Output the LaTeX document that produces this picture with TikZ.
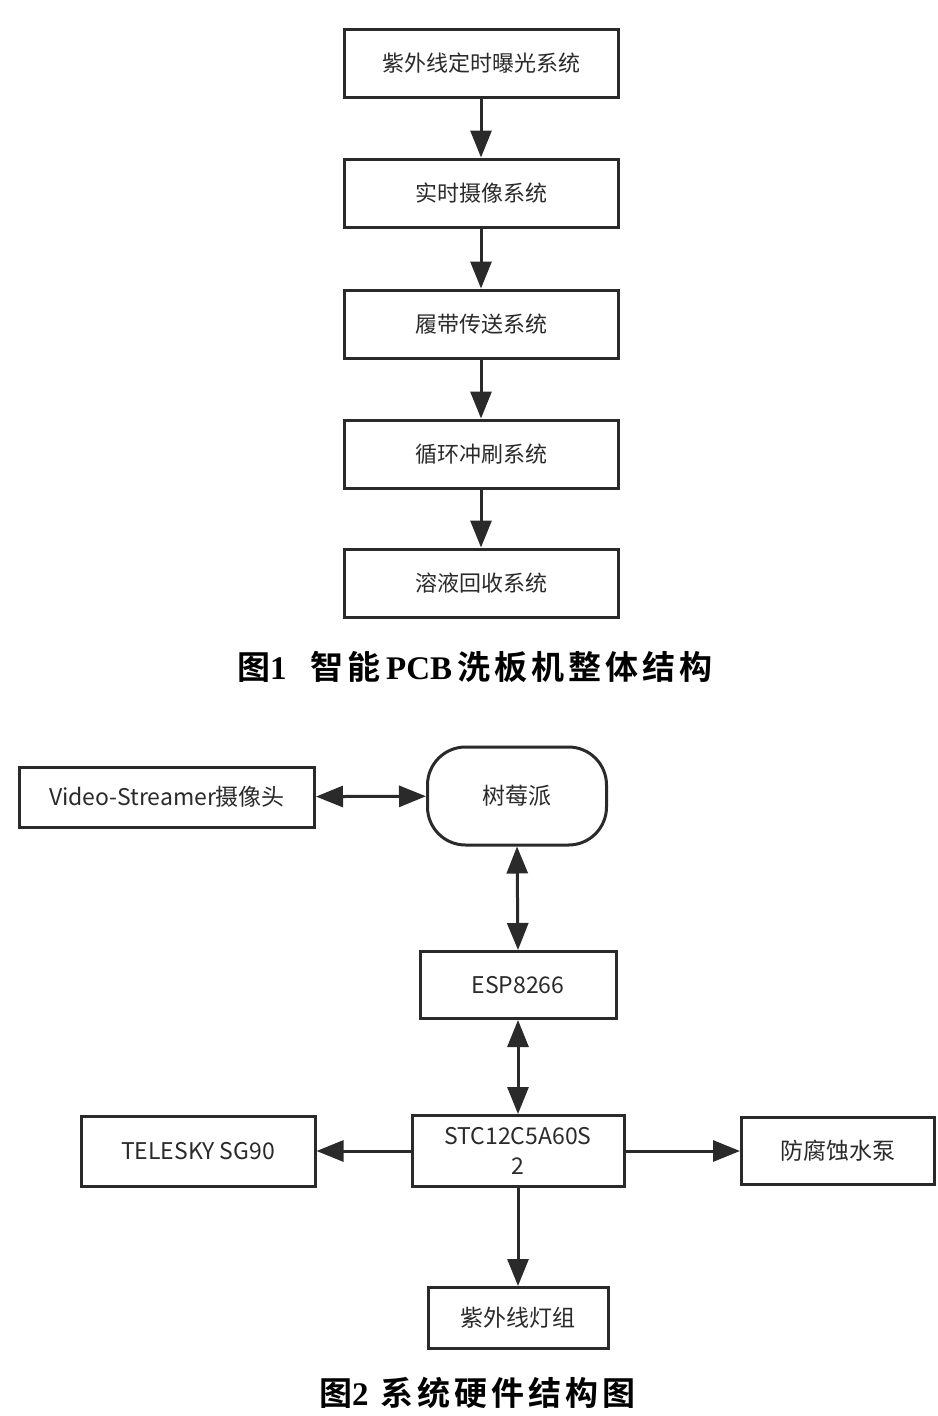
\documentclass[tikz,border=0pt]{standalone}
\usepackage{fontspec}
\newfontfamily\cjk{Noto Sans CJK SC}
\newfontfamily\cjkbold{Noto Sans CJK SC Bold}[LetterSpace=12]
\newfontfamily\serifbold{Liberation Serif Bold}
\usetikzlibrary{arrows.meta}
\definecolor{ink}{HTML}{2A2A2A}
\begin{document}
\begin{tikzpicture}[x=1pt,y=-1pt,
  box/.style={draw=ink,line width=3pt,inner sep=0pt,anchor=center,align=center,
    font=\cjk\fontsize{22}{30}\selectfont,text=ink},
  box2/.style={box,font=\cjk\fontsize{23}{30}\selectfont},
  conn/.style={line width=3pt,draw=ink},
  tip/.tip={Triangle[length=27pt,width=21pt]},
  arr/.style={conn,-tip},
  darr/.style={conn,tip-tip},
  captext/.style={anchor=west,inner sep=0pt,text=black,font=\cjkbold\fontsize{33}{36}\selectfont}]
\useasboundingbox (0,0) rectangle (937,1416);
\fill[white] (0,0) rectangle (937,1416);
% figure 1
\node[box,minimum width=274pt,minimum height=68pt] (t1) at (481,63) {紫外线定时曝光系统};
\node[box,minimum width=274pt,minimum height=68pt] (t2) at (481,193) {实时摄像系统};
\node[box,minimum width=274pt,minimum height=68pt] (t3) at (481,324) {履带传送系统};
\node[box,minimum width=274pt,minimum height=68pt] (t4) at (481,454) {循环冲刷系统};
\node[box,minimum width=274pt,minimum height=68pt] (t5) at (481,583) {溶液回收系统};
\draw[arr] (t1) -- (t2);
\draw[arr] (t2) -- (t3);
\draw[arr] (t3) -- (t4);
\draw[arr] (t4) -- (t5);
\node[captext] (c1) at (237,667) {图{\serifbold 1}\hspace{24pt}智能{\serifbold\,PCB\,}洗板机整体结构};
% figure 2
\node[box2,minimum width=295pt,minimum height=60pt] (cam) at (167,797) {Video-Streamer摄像头};
\node[box2,rounded corners=38pt,minimum width=179pt,minimum height=98pt] (pi) at (517,796) {树莓派};
\node[box2,minimum width=196pt,minimum height=67pt] (esp) at (518,985) {ESP8266};
\node[box2,minimum width=212pt,minimum height=71pt] (stc) at (518,1151) {STC12C5A60S\\2};
\node[box2,minimum width=234pt,minimum height=70pt] (sg) at (198,1151) {TELESKY SG90};
\node[box2,minimum width=193pt,minimum height=67pt] (pump) at (838,1151) {防腐蚀水泵};
\node[box2,minimum width=180pt,minimum height=61pt] (uv) at (518,1318) {紫外线灯组};
\draw[darr] (cam) -- (pi);
\draw[darr] (pi.south) -- (esp.north);
\draw[darr] (esp) -- (stc);
\draw[arr] (stc) -- (sg);
\draw[arr] (stc) -- (pump);
\draw[arr] (stc) -- (uv);
\node[captext] (c2) at (319,1393) {图{\serifbold 2}\hspace{12pt}系统硬件结构图};
\end{tikzpicture}
\end{document}
